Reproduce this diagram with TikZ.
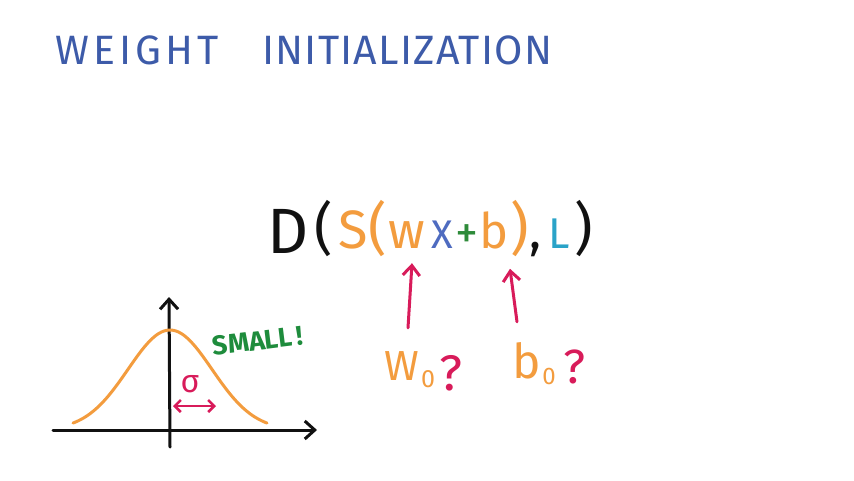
\documentclass[tikz,border=0pt]{standalone}
\usepackage{fontspec}
\setmainfont{Fira Sans}
\usetikzlibrary{arrows.meta,calc}
\definecolor{ttl}{HTML}{3D5BA9}
\definecolor{org}{HTML}{F39C3E}
\definecolor{crim}{HTML}{D81B5A}
\definecolor{xblue}{HTML}{4E6BC0}
\definecolor{grn}{HTML}{2E8B3A}
\definecolor{sgrn}{HTML}{1E8C3C}
\definecolor{teal}{HTML}{2AA3C8}
\definecolor{blk}{HTML}{111111}
\begin{document}
\begin{tikzpicture}[x=1pt,y=-1pt,
  ch/.style={anchor=base,inner sep=0pt,font=\fontsize{#1}{#1}\selectfont},
  ttlstyle/.style={anchor=base west,inner sep=0pt,text=ttl,font=\fontsize{41}{41}\selectfont\addfontfeatures{LetterSpace=#1}},
  arr/.style={draw=crim,line width=3pt,line cap=round,line join=round,-{Straight Barb[length=10pt,width=17pt,line width=3pt]}},
  axis/.style={draw=blk,line width=3pt,line cap=round,line join=round,-{Straight Barb[length=10pt,width=18pt,line width=3pt]}}]
\useasboundingbox[fill=white] (0,0) rectangle (854,480);
% title
\node[ttlstyle=10] (t1) at (55,64) {WEIGHT};
\node[ttlstyle=3] (t2) at (262,64) {INITIALIZATION};
% formula
\node[ch=64,text=blk] (D) at (288,253) {D};
\node[ch=57,text=blk] (p1) at (324,248) {(};
\node[ch=54,text=org] (S) at (353,248) {S};
\node[ch=57,text=org] (p2) at (378,248) {(};
\node[ch=51,text=org] (w) at (407,248) {w};
\node[ch=40,text=xblue] (X) at (442,248) {X};
\node[ch=46,text=grn] (plus) at (467,248) {+};
\node[ch=49,text=org] (b) at (494,248) {b};
\node[ch=57,text=org] (p3) at (520,248) {)};
\node[ch=50,text=blk] (comma) at (535,248) {,};
\node[ch=43,text=teal] (L) at (559,248) {L};
\node[ch=57,text=blk] (p4) at (584,248) {)};
% W0 ?  b0 ?
\node[ch=42,text=org] (W0) at (402,380) {W};
\node[ch=25,text=org] (s1) at (428,387) {0};
\node[ch=50,text=crim] (q1) at (451,390) {?};
\node[ch=48,text=org] (b0) at (527,378) {b};
\node[ch=24,text=org] (s2) at (549,384) {0};
\node[ch=48,text=crim] (q2) at (575,383) {?};
\draw[arr] ([xshift=6pt,yshift=23pt]W0.north) -- ([xshift=5pt,yshift=-15pt]w.south);
\draw[arr] ([xshift=-10pt,yshift=20pt]b0.north) -- ([xshift=16pt,yshift=-20pt]b.south);
% graph
\draw[axis] (53,430) -- (317,430);
\draw[axis] (170,447) -- (169,297);
\draw[org,line width=3pt,line cap=round] plot[domain=73:267,samples=80,smooth] (\x,{430-100*exp(-((\x-170)/42)^2/2)});
\draw[draw=crim,line width=2.5pt,line cap=round,{Straight Barb[length=6pt,width=12pt,line width=2.5pt]}-{Straight Barb[length=6pt,width=12pt,line width=2.5pt]}] (173,406) -- (216,406);
\node[ch=32,text=crim] (sig) at (190,392) {σ};
\node[anchor=center,inner sep=0pt,text=sgrn,font=\fontsize{27}{27}\selectfont\bfseries,rotate=7] (small) at (258,341) {SMALL\,!};
\end{tikzpicture}
\end{document}
